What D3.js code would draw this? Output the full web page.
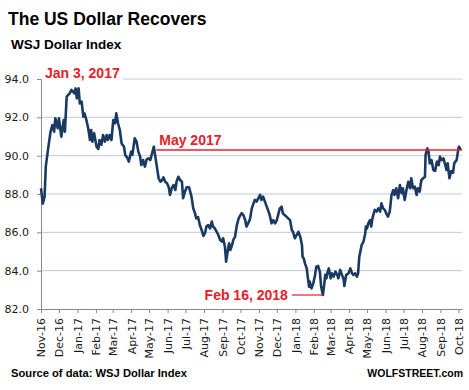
<!DOCTYPE html>
<html>
<head>
<meta charset="utf-8">
<script src="https://cdn.jsdelivr.net/npm/d3@7"></script>
<style>
  body { margin: 0; background: #fff; }
  svg { display: block; }
</style>
</head>
<body>
<svg></svg>
<script>
// WSJ Dollar Index
const dates = [
  "2016-11-01","2016-11-04","2016-11-07","2016-11-09","2016-11-13","2016-11-17","2016-11-20","2016-11-23","2016-11-25","2016-11-29",
  "2016-12-01","2016-12-05","2016-12-09","2016-12-11","2016-12-14","2016-12-19","2016-12-22","2016-12-27","2016-12-29","2016-12-31",
  "2017-01-03","2017-01-05","2017-01-08","2017-01-11","2017-01-13","2017-01-16","2017-01-19","2017-01-22","2017-01-24","2017-01-26","2017-01-29",
  "2017-02-02","2017-02-05","2017-02-07","2017-02-10","2017-02-13","2017-02-16","2017-02-19","2017-02-21","2017-02-24","2017-02-27",
  "2017-03-02","2017-03-05","2017-03-07","2017-03-10","2017-03-13","2017-03-16","2017-03-20","2017-03-22","2017-03-26","2017-03-28",
  "2017-04-01","2017-04-03","2017-04-07","2017-04-10","2017-04-13","2017-04-16","2017-04-18","2017-04-21","2017-04-24","2017-04-27","2017-04-30",
  "2017-05-03","2017-05-06","2017-05-09","2017-05-11","2017-05-14","2017-05-17","2017-05-20","2017-05-23","2017-05-25","2017-05-28","2017-05-31",
  "2017-06-03","2017-06-05","2017-06-08","2017-06-11","2017-06-14","2017-06-16","2017-06-19","2017-06-22","2017-06-25","2017-06-27","2017-06-30",
  "2017-07-03","2017-07-07","2017-07-11","2017-07-14","2017-07-17","2017-07-19","2017-07-22","2017-07-25","2017-07-28","2017-07-31",
  "2017-08-03","2017-08-05","2017-08-08","2017-08-11","2017-08-14","2017-08-16","2017-08-19","2017-08-22","2017-08-25","2017-08-28","2017-08-31",
  "2017-09-02","2017-09-05","2017-09-07","2017-09-09","2017-09-12","2017-09-14","2017-09-17","2017-09-19","2017-09-22","2017-09-25","2017-09-28",
  "2017-10-01","2017-10-03","2017-10-06","2017-10-09","2017-10-11","2017-10-14","2017-10-17","2017-10-20","2017-10-22","2017-10-25","2017-10-28","2017-10-31",
  "2017-11-03","2017-11-05","2017-11-08","2017-11-11","2017-11-14","2017-11-16","2017-11-19","2017-11-22","2017-11-25","2017-11-28",
  "2017-12-01","2017-12-03","2017-12-06","2017-12-09","2017-12-11","2017-12-14","2017-12-17","2017-12-20","2017-12-23","2017-12-26","2017-12-28","2017-12-31",
  "2018-01-03","2018-01-06","2018-01-09","2018-01-12","2018-01-13","2018-01-15","2018-01-17","2018-01-20","2018-01-22","2018-01-24","2018-01-25","2018-01-28","2018-01-31",
  "2018-02-03","2018-02-05","2018-02-08","2018-02-11","2018-02-13","2018-02-16","2018-02-18","2018-02-20","2018-02-22","2018-02-24","2018-02-26",
  "2018-03-01","2018-03-03","2018-03-06","2018-03-09","2018-03-12","2018-03-14","2018-03-17","2018-03-20","2018-03-23","2018-03-24","2018-03-27","2018-03-31",
  "2018-04-03","2018-04-06","2018-04-08","2018-04-11","2018-04-14","2018-04-16","2018-04-18","2018-04-22","2018-04-25","2018-04-28","2018-04-29",
  "2018-05-01","2018-05-03","2018-05-06","2018-05-08","2018-05-10","2018-05-13","2018-05-14","2018-05-17","2018-05-20","2018-05-23","2018-05-25","2018-05-28","2018-05-31",
  "2018-06-02","2018-06-05","2018-06-08","2018-06-11","2018-06-14","2018-06-16","2018-06-19","2018-06-22","2018-06-25","2018-06-28","2018-06-30",
  "2018-07-03","2018-07-06","2018-07-09","2018-07-12","2018-07-14","2018-07-17","2018-07-20","2018-07-23","2018-07-25","2018-07-28","2018-07-31",
  "2018-08-03","2018-08-06","2018-08-07","2018-08-10","2018-08-12","2018-08-14","2018-08-17","2018-08-20","2018-08-23","2018-08-26","2018-08-29","2018-08-31",
  "2018-09-03","2018-09-06","2018-09-09","2018-09-11","2018-09-13","2018-09-16","2018-09-19","2018-09-22","2018-09-24","2018-09-26","2018-09-28",
  "2018-10-01","2018-10-02","2018-10-05"
];

const values = [
  88.30,87.50,87.86,89.43,90.38,91.25,91.60,91.25,91.95,91.43,
  91.95,90.99,91.86,91.25,93.08,93.25,93.43,93.25,93.51,92.99,
  93.51,92.73,92.82,92.03,92.20,91.86,91.43,90.82,91.34,90.73,91.17,
  90.47,90.35,90.82,90.56,91.08,90.73,91.08,90.82,91.08,90.82,
  91.86,91.69,92.21,91.69,91.34,90.64,90.47,90.04,89.86,89.69,
  90.21,90.04,90.91,90.73,90.21,89.95,89.51,89.77,89.43,89.81,89.86,
  89.77,90.12,90.47,90.04,89.43,88.82,88.64,88.73,88.87,88.64,88.56,
  88.35,87.95,88.30,88.47,88.21,88.64,88.90,88.73,88.64,87.78,88.12,
  88.35,88.35,87.86,87.25,86.99,86.73,86.80,86.38,86.12,85.81,
  86.00,86.30,86.38,86.21,86.56,86.30,86.21,86.04,85.86,85.60,85.52,
  85.69,85.25,84.47,84.90,85.43,85.08,85.34,85.60,85.78,86.38,86.73,
  86.90,87.00,86.90,86.64,86.30,86.47,86.70,87.25,87.43,87.69,87.60,87.78,
  87.95,87.69,87.86,87.60,87.34,87.17,86.90,86.47,86.64,86.47,
  86.64,86.90,87.25,87.34,86.99,86.90,86.82,86.73,86.64,86.12,86.03,85.69,
  85.86,86.03,85.78,85.34,84.73,84.64,84.38,84.12,83.60,83.16,83.43,83.08,83.34,
  83.78,84.21,84.25,83.95,83.20,82.73,83.20,83.78,83.60,83.95,84.12,
  83.60,83.86,83.69,83.95,83.78,83.60,84.04,83.78,83.52,83.20,83.78,83.86,
  84.12,83.86,83.78,83.86,83.69,83.86,84.73,85.34,85.51,85.95,86.30,
  86.21,86.47,86.64,86.30,86.73,87.08,87.17,87.08,87.25,87.08,87.51,87.25,87.16,
  86.99,86.82,87.08,87.95,88.21,87.95,88.30,87.78,88.47,88.04,88.30,
  87.69,88.21,88.64,88.30,88.82,88.30,88.38,87.95,88.30,88.12,88.73,
  88.82,88.90,90.04,90.38,90.20,89.60,89.77,89.25,89.20,89.69,89.51,89.95,
  89.77,89.86,89.51,89.25,89.60,88.82,89.20,89.10,89.60,89.69,89.77,
  90.38,90.47,90.30
];

const yTicks = [82, 84, 86, 88, 90, 92, 94];
const xStart = "2016-11-01";
const xEnd = "2018-10-07";

// annotations
const highDate = "2017-01-03";
const highLabel = "Jan 3, 2017";
const mayLevel = 90.3;
const mayStart = "2017-05-13";
const mayLabel = "May 2017";
const lowDate = "2018-02-16";
const lowValue = 82.73;
const lowLabel = "Feb 16, 2018";

const width = 469, height = 390;
const red = "#e8202a";
const axisColor = "#878787";
const textColor = "#1a1a1a";

const parse = d3.timeParse("%Y-%m-%d");
const data = dates.map(function(d, i) { return { date: parse(d), value: values[i] }; });

const svg = d3.select("svg")
    .attr("width", width)
    .attr("height", height)
    .style("font-family", "'DejaVu Sans', Verdana, sans-serif");

svg.append("rect").attr("width", width).attr("height", height).attr("fill", "#fff");

const x = d3.scaleTime()
    .domain([parse(xStart), parse(xEnd)])
    .range([41, 462]);

const y = d3.scaleLinear()
    .domain([82, 94])
    .range([309, 79]);

// gridlines
svg.append("g")
  .selectAll("line")
  .data(yTicks.filter(function(d) { return d > 82; }))
  .join("line")
    .attr("x1", x.range()[0])
    .attr("x2", x.range()[1])
    .attr("y1", function(d) { return y(d); })
    .attr("y2", function(d) { return y(d); })
    .attr("stroke", "#bccbdf")
    .attr("stroke-width", 1);

// y axis
const yAxis = svg.append("g")
    .attr("transform", "translate(" + x.range()[0] + ",0)")
    .call(d3.axisLeft(y).tickValues(yTicks).tickFormat(d3.format(".1f")).tickSize(4).tickSizeOuter(0).tickPadding(8));
yAxis.select(".domain").attr("stroke", axisColor);
yAxis.selectAll(".tick line").attr("stroke", axisColor);
yAxis.selectAll("text")
    .attr("fill", textColor)
    .style("font-size", "11px")
    .style("font-family", "'DejaVu Sans', Verdana, sans-serif");

// x axis
const months = d3.timeMonth.range(parse("2016-11-01"), parse("2018-10-02"));
const xAxis = svg.append("g")
    .attr("transform", "translate(0," + y(82) + ")")
    .call(d3.axisBottom(x).tickValues(months).tickFormat(d3.timeFormat("%b-%y")).tickSize(4).tickSizeOuter(0));
xAxis.select(".domain").attr("stroke", axisColor);
xAxis.selectAll(".tick line").attr("stroke", axisColor);
xAxis.selectAll("text")
    .attr("fill", textColor)
    .style("font-size", "11px")
    .style("font-family", "'DejaVu Sans', Verdana, sans-serif")
    .attr("text-anchor", "end")
    .attr("transform", "rotate(-90)")
    .attr("x", -9)
    .attr("y", 0)
    .attr("dy", "0.35em");

// the index line
const line = d3.line()
    .x(function(d) { return x(d.date); })
    .y(function(d) { return y(d.value); });

svg.append("path")
    .datum(data)
    .attr("d", line)
    .attr("fill", "none")
    .attr("stroke", "#1b3a62")
    .attr("stroke-width", 2.6)
    .attr("stroke-linejoin", "round");

// May 2017 level line
svg.append("line")
    .attr("x1", x(parse(mayStart)))
    .attr("x2", x.range()[1])
    .attr("y1", y(mayLevel))
    .attr("y2", y(mayLevel))
    .attr("stroke", red)
    .attr("stroke-width", 1.5);

const labelFont = "'Liberation Sans', Arial, sans-serif";

svg.append("text")
    .attr("x", x(parse(mayStart)) + 3)
    .attr("y", y(mayLevel) - 5)
    .attr("fill", red)
    .style("font-family", labelFont)
    .style("font-weight", "bold")
    .style("font-size", "14px")
    .text(mayLabel);

// Jan 3 label, white box hides the gridline behind it
const hx = x.range()[0];
svg.append("rect")
    .attr("x", hx + 1)
    .attr("y", y(94) - 13)
    .attr("width", x(parse(highDate)) + 43 - hx)
    .attr("height", 17)
    .attr("fill", "#fff");
svg.append("text")
    .attr("x", hx + 4)
    .attr("y", y(94) - 1)
    .attr("fill", red)
    .style("font-family", labelFont)
    .style("font-weight", "bold")
    .style("font-size", "14px")
    .text(highLabel);

// Feb 16 low
const lx = x(parse(lowDate)), ly = y(lowValue);
svg.append("line")
    .attr("x1", lx - 31)
    .attr("x2", lx)
    .attr("y1", ly)
    .attr("y2", ly)
    .attr("stroke", red)
    .attr("stroke-width", 1.2);
svg.append("text")
    .attr("x", lx - 35)
    .attr("y", ly + 5)
    .attr("text-anchor", "end")
    .attr("fill", red)
    .style("font-family", labelFont)
    .style("font-weight", "bold")
    .style("font-size", "14px")
    .text(lowLabel);

// titles
svg.append("text")
    .attr("x", 8)
    .attr("y", 25)
    .attr("fill", "#000")
    .style("font-family", labelFont)
    .style("font-weight", "bold")
    .style("font-size", "17.5px")
    .text("The US Dollar Recovers");

svg.append("text")
    .attr("x", 11)
    .attr("y", 49)
    .attr("fill", "#000")
    .style("font-family", labelFont)
    .style("font-weight", "bold")
    .style("font-size", "13.5px")
    .text("WSJ Dollar Index");

svg.append("text")
    .attr("x", 11)
    .attr("y", 377)
    .attr("fill", "#000")
    .style("font-family", labelFont)
    .style("font-weight", "bold")
    .style("font-size", "11.2px")
    .text("Source of data: WSJ Dollar Index");

svg.append("text")
    .attr("x", 463)
    .attr("y", 377)
    .attr("text-anchor", "end")
    .attr("fill", "#000")
    .style("font-family", labelFont)
    .style("font-weight", "bold")
    .style("font-size", "10.5px")
    .text("WOLFSTREET.com");
</script>
</body>
</html>
